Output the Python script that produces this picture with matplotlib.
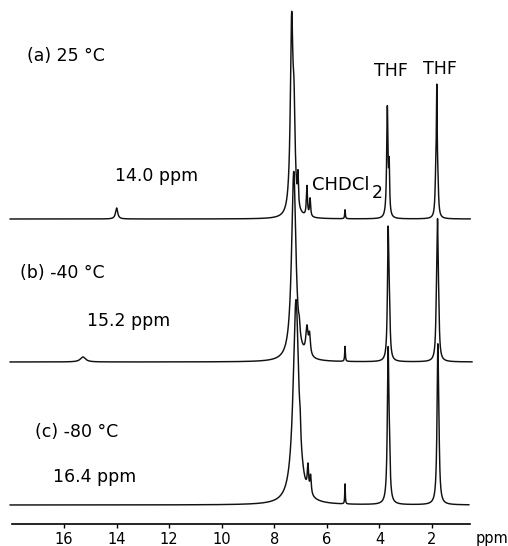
import numpy as np
import matplotlib.pyplot as plt

W, H = 508, 546

# x range of the drawn axis (ppm) and of each trace
axis_left, axis_right = 17.98, 0.555
trace_start = [18.05, 18.05, 18.05]
trace_end = [0.55, 0.48, 0.60]

# baseline of each trace, in plot units (0 = top of figure)
baselines = [219, 362, 505]

# peaks: centre (ppm), height, half width (ppm)
a_pos = [14.0, 7.34, 7.25, 7.10, 6.76, 6.64, 5.31, 3.70, 3.63, 1.86, 1.82, 1.78]
a_hgt = [11, 188, 80, 30, 30, 18, 9, 110, 45, 28, 115, 28]
a_wid = [0.05, 0.06, 0.05, 0.02, 0.025, 0.025, 0.015, 0.03, 0.02, 0.03, 0.02, 0.03]

b_pos = [15.28, 7.26, 7.05, 6.76, 6.66, 5.31, 3.67, 3.62, 1.83, 1.79, 1.75]
b_hgt = [5, 190, 10, 27, 20, 15, 125, 40, 35, 120, 30]
b_wid = [0.12, 0.10, 0.03, 0.05, 0.04, 0.015, 0.03, 0.03, 0.03, 0.03, 0.03]

c_pos = [7.175, 7.02, 6.72, 6.62, 5.31, 3.67, 3.62, 1.78, 1.74]
c_hgt = [205, 15, 25, 18, 20, 150, 30, 150, 30]
c_wid = [0.13, 0.02, 0.03, 0.03, 0.012, 0.035, 0.03, 0.035, 0.03]

peak_sets = [(a_pos, a_hgt, a_wid), (b_pos, b_hgt, b_wid), (c_pos, c_hgt, c_wid)]

ticks = [16, 14, 12, 10, 8, 6, 4, 2]


def lorentz_sum(x, pos, hgt, wid):
    y = np.zeros_like(x)
    for p, h, w in zip(pos, hgt, wid):
        y += h * w ** 2 / ((x - p) ** 2 + w ** 2)
    return y


def ftext(px, py, s, size=12.5):
    # place text by pixel position in the figure
    fig.text(px / W, 1 - py / H, s, fontsize=size, va='center')


fig = plt.figure(figsize=(W / 100, H / 100), dpi=100)
ax = fig.add_axes([12 / W, (H - 524) / H, 458 / W, 524 / H])

for i, (pos, hgt, wid) in enumerate(peak_sets):
    x = np.linspace(trace_start[i], trace_end[i], 8000)
    y = baselines[i] - lorentz_sum(x, pos, hgt, wid)
    ax.plot(x, y, color='#111111', lw=1.05, clip_on=False)

ax.set_xlim(axis_left, axis_right)
ax.set_ylim(524, 0)
for s in ['top', 'left', 'right']:
    ax.spines[s].set_visible(False)
ax.spines['bottom'].set_linewidth(1.2)
ax.set_yticks([])
ax.set_xticks(ticks)
ax.set_xticklabels([str(t) for t in ticks])
ax.tick_params(axis='x', direction='out', length=3, width=1, pad=3, labelsize=10.5)

ftext(476, 538, 'ppm', 10.5)

ftext(27, 56, '(a) 25 °C')
ftext(115, 176, '14.0 ppm')
ftext(20, 273, '(b) -40 °C')
ftext(87, 321, '15.2 ppm')
ftext(35, 432, '(c) -80 °C')
ftext(53, 477, '16.4 ppm')
ftext(374, 71, 'THF')
ftext(423, 69, 'THF')
ftext(312, 185, 'CHDCl', 13)
ftext(372, 193, '2', 12.5)

plt.savefig('out.png', dpi=100)
